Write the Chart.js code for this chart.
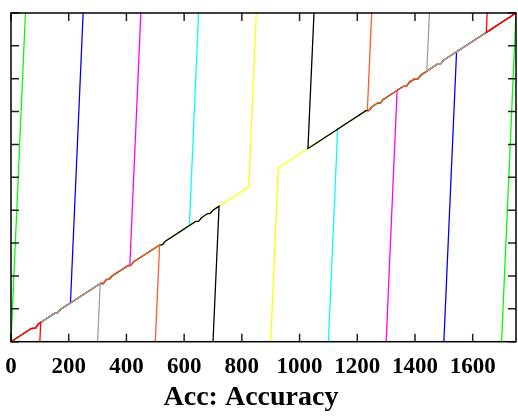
<!DOCTYPE html>
<html>
<head>
<meta charset="utf-8">
<script src="https://cdn.jsdelivr.net/npm/chart.js@4"></script>
<style>
  html, body { margin: 0; padding: 0; background: #fff; }
  #wrap { width: 518px; height: 417px; }
</style>
</head>
<body>
<div id="wrap"><canvas id="chart" width="518" height="417"></canvas></div>
<script>
// shared staircase path along the diagonal
const diagX = [0, 70, 85, 95, 150, 160, 170, 310, 320, 330, 340, 350, 405, 415, 425,
  515, 525, 535, 640, 650, 660, 680, 690, 700, 712, 1035, 1230, 1240, 1250, 1270,
  1280, 1290, 1360, 1370, 1380, 1400, 1410, 1420, 1480, 1490, 1500, 1640, 1750];
const diagY = [0, 0.040, 0.041, 0.054, 0.086, 0.086, 0.097, 0.177, 0.177, 0.189, 0.190, 0.200, 0.231, 0.232, 0.243,
  0.294, 0.295, 0.306, 0.366, 0.366, 0.377, 0.389, 0.390, 0.400, 0.407, 0.591, 0.703, 0.703, 0.714, 0.726,
  0.726, 0.737, 0.777, 0.777, 0.789, 0.800, 0.800, 0.811, 0.846, 0.846, 0.857, 0.937, 1];

// first one is drawn on top
const seriesNames = ['red', 'gray', 'orange', 'black', 'yellow', 'cyan', 'magenta', 'blue', 'green'];
const seriesColors = ['#ff0000', '#a0a0a0', '#ff5a28', '#000000', '#ffff00', '#00ffff', '#ff00ff', '#0000ff', '#00ff00'];

// left piece: diagonal up to the junction, then off to the end point
const leftJoinX = [103, 309, 515, 721, 824, 618, 412, 206, 0];
const leftJoinY = [0.059, 0.176, 0.294, 0.412, 0.471, 0.353, 0.235, 0.118, 0];
const leftEndX = [100, 300, 500, 700, 850, 650, 450, 250, 50];
const leftEndY = [0, 0, 0, 0, 1, 1, 1, 1, 1];

// right piece: start point, junction, then diagonal to the corner
const rightStartX = [1650, 1450, 1250, 1050, 900, 1100, 1300, 1500, 1700];
const rightStartY = [1, 1, 1, 1, 0, 0, 0, 0, 0];
const rightJoinX = [1647, 1441, 1235, 1029, 926, 1132, 1338, 1544, 1750];
const rightJoinY = [0.941, 0.824, 0.706, 0.588, 0.529, 0.647, 0.765, 0.882, 1];

const xTicks = [0, 200, 400, 600, 800, 1000, 1200, 1400, 1600];
const yTicks = [0, 0.1, 0.2, 0.3, 0.4, 0.5, 0.6, 0.7, 0.8, 0.9, 1];
const xTitle = 'Acc: Accuracy';

const datasets = seriesNames.map((name, i) => {
  const pts = [];
  diagX.forEach((x, k) => { if (x < leftJoinX[i]) pts.push({ x: x, y: diagY[k] }); });
  pts.push({ x: leftJoinX[i], y: leftJoinY[i] }, { x: leftEndX[i], y: leftEndY[i] });
  pts.push({ x: 875, y: null }); // break between the two pieces
  pts.push({ x: rightStartX[i], y: rightStartY[i] }, { x: rightJoinX[i], y: rightJoinY[i] });
  diagX.forEach((x, k) => { if (x > rightJoinX[i]) pts.push({ x: x, y: diagY[k] }); });
  return {
    label: name,
    data: pts,
    borderColor: seriesColors[i],
    borderWidth: 1.3,
    pointRadius: 0,
    fill: false,
    tension: 0,
    spanGaps: false
  };
});

// frame, inward ticks on all four sides, and the axis title
const framePlugin = {
  id: 'frame',
  afterDraw(chart) {
    const { ctx, chartArea: a, scales } = chart;
    ctx.save();
    ctx.strokeStyle = '#222';
    ctx.lineWidth = 1.5;
    ctx.beginPath();
    xTicks.forEach(v => {
      const px = scales.x.getPixelForValue(v);
      ctx.moveTo(px, a.bottom); ctx.lineTo(px, a.bottom - 8);
      ctx.moveTo(px, a.top); ctx.lineTo(px, a.top + 8);
    });
    yTicks.forEach(v => {
      const py = scales.y.getPixelForValue(v);
      ctx.moveTo(a.left, py); ctx.lineTo(a.left + 8, py);
      ctx.moveTo(a.right, py); ctx.lineTo(a.right - 8, py);
    });
    ctx.stroke();
    ctx.strokeStyle = '#000';
    ctx.strokeRect(a.left, a.top, a.right - a.left, a.bottom - a.top);

    ctx.fillStyle = '#000';
    ctx.font = 'bold 28px "Liberation Serif"';
    ctx.textAlign = 'center';
    ctx.textBaseline = 'alphabetic';
    ctx.fillText(xTitle, 251, 405);
    ctx.restore();
  }
};

new Chart(document.getElementById('chart'), {
  type: 'line',
  data: { datasets: datasets },
  options: {
    responsive: false,
    animation: false,
    layout: { padding: { left: 11, right: 2, top: 13, bottom: 0 } },
    plugins: { legend: { display: false }, tooltip: { enabled: false } },
    scales: {
      x: {
        type: 'linear',
        min: 0,
        max: 1750,
        grid: { display: false, drawTicks: false },
        border: { display: false },
        afterFit: s => { s.height = 75.3; s.paddingLeft = 0; s.paddingRight = 0; },
        afterBuildTicks: s => { s.ticks = xTicks.map(v => ({ value: v })); },
        ticks: {
          padding: 12,
          maxRotation: 0,
          autoSkip: false,
          color: '#000',
          callback: v => String(v),
          font: { family: 'Liberation Serif', size: 23, weight: 'bold' }
        }
      },
      y: {
        type: 'linear',
        min: 0,
        max: 1,
        grid: { display: false, drawTicks: false },
        border: { display: false },
        ticks: { display: false },
        afterFit: s => { s.width = 0; }
      }
    }
  },
  plugins: [framePlugin]
});
</script>
</body>
</html>
